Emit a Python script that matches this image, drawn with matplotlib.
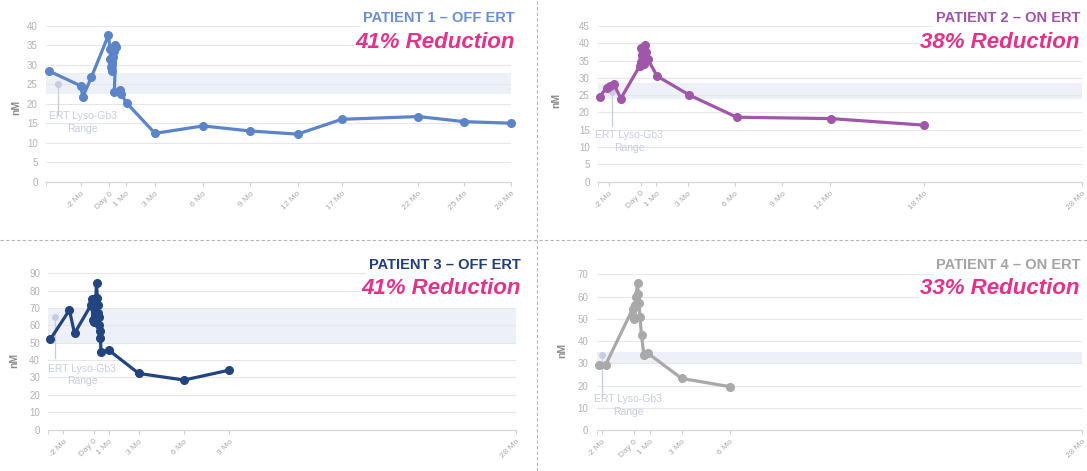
import matplotlib
matplotlib.use("Agg")
import matplotlib.pyplot as plt
from matplotlib.lines import Line2D

plt.rcParams['font.family'] = ['Liberation Sans', 'DejaVu Sans']

W, H = 1087, 471

# ---------------- data ----------------
# Patient 1 (x in months relative to Day 0 as plotted)
p1_x = [-3.9, -1.85, -1.7, -1.15, -0.05, 0.05, 0.08, 0.12, 0.16, 0.2, 0.25, 0.3, 0.38, 0.42, 0.33, 0.7, 0.75, 1.12,
        2.95, 6.05, 9.1, 12.15, 15.0, 19.95, 22.9, 25.9]
p1_y = [28.4, 24.6, 21.8, 26.8, 37.6, 34.0, 31.5, 29.5, 28.5, 30.5, 32.0, 33.5, 35.0, 34.5, 23.0, 23.4, 22.6, 20.2,
        12.4, 14.3, 13.0, 12.2, 16.0, 16.7, 15.4, 15.0]
p1_ticks = [-1.85, 0, 1.1, 2.95, 6.05, 9.1, 12.15, 15.0, 19.95, 22.9, 25.9]
p1_labels = ["-2 Mo", "Day 0", "1 Mo", "3 Mo", "6 Mo", "9 Mo", "12 Mo", "17 Mo", "22 Mo", "25 Mo", "28 Mo"]
p1_band = (22.4, 28.0)

# Patient 2
p2_x = [-2.6, -2.15, -1.95, -1.7, -1.25, -0.05, 0.0, 0.05, 0.12, 0.2, 0.3, 0.36, 0.45, 1.05, 3.1, 6.1, 12.1, 18.0]
p2_y = [24.5, 27.2, 27.5, 28.2, 24.0, 33.5, 38.5, 34.5, 36.5, 34.0, 39.5, 37.5, 35.5, 30.5, 25.0, 18.6, 18.2, 16.3]
p2_ticks = [-2, 0, 1, 3, 6, 9, 12, 18, 28]
p2_labels = ["-2 Mo", "Day 0", "1 Mo", "3 Mo", "6 Mo", "9 Mo", "12 Mo", "18 Mo", "28 Mo"]
p2_band = (24.0, 28.4)

# Patient 3
p3_x = [-2.87, -1.6, -1.26, -0.15, -0.1, -0.05, 0.0, 0.05, 0.1, 0.15, 0.2, 0.25, 0.3, 0.32, 0.35, 0.38, 0.4, 0.45,
        0.5, 1.0, 3.0, 6.0, 9.0]
p3_y = [51.9, 68.8, 55.4, 72.0, 75.0, 63.0, 62.0, 70.0, 74.0, 76.0, 84.2, 76.0, 72.0, 67.0, 65.0, 60.0, 57.0, 53.0,
        44.8, 45.8, 32.3, 28.5, 34.2]
p3_ticks = [-2, 0, 1, 3, 6, 9, 28]
p3_labels = ["-2 Mo", "Day 0", "1 Mo", "3 Mo", "6 Mo", "9 Mo", "28 Mo"]
p3_band = (50.0, 70.0)

# Patient 4
p4_x = [-2.15, -1.75, -0.05, 0.0, 0.05, 0.1, 0.15, 0.25, 0.3, 0.35, 0.4, 0.5, 0.65, 0.9, 3.0, 6.0]
p4_y = [29.2, 29.2, 54.5, 51.0, 50.0, 56.0, 60.0, 66.0, 61.0, 57.0, 51.0, 42.5, 33.5, 34.5, 23.2, 19.5]
p4_ticks = [-2, 0, 1, 3, 6, 28]
p4_labels = ["-2 Mo", "Day 0", "1 Mo", "3 Mo", "6 Mo", "28 Mo"]
p4_band = (30.0, 35.2)

titles = ["PATIENT 1 \u2013 OFF ERT", "PATIENT 2 \u2013 ON ERT", "PATIENT 3 \u2013 OFF ERT", "PATIENT 4 \u2013 ON ERT"]
reductions = ["41% Reduction", "38% Reduction", "41% Reduction", "33% Reduction"]

# ---------------- styling / layout ----------------
colors = ["#5b84c9", "#a157a9", "#22447f", "#a9a9a9"]
title_colors = ["#6a8fd0", "#9e54a7", "#1f3d79", "#a3a3a3"]
pink = "#e2338a"
band_color = "#edf0f6"
range_color = "#c7cce0"

panels = [
    dict(x=p1_x, y=p1_y, ticks=p1_ticks, labels=p1_labels, band=p1_band,
         px=(46, 511, 25.7, 181.7), xlim=(-4.08, 25.92), ymax=40, ystep=5,
         marker=(-3.3, 25.0), line_end=17.0, text=(-1.7, 18.2), title_xy=(515, 18), nm=(16, 107)),
    dict(x=p2_x, y=p2_y, ticks=p2_ticks, labels=p2_labels, band=p2_band,
         px=(598, 1082, 26, 181.5), xlim=(-2.7, 28.0), ymax=45, ystep=5,
         marker=(-1.82, 25.9), line_end=16.0, text=(-0.72, 14.8), title_xy=(1080, 18), nm=(556, 100)),
    dict(x=p3_x, y=p3_y, ticks=p3_ticks, labels=p3_labels, band=p3_band,
         px=(48.3, 515.7, 273.3, 429.5), xlim=(-3.0, 28.0), ymax=90, ystep=10,
         marker=(-2.53, 65.0), line_end=41.0, text=(-0.76, 38.0), title_xy=(521, 265), nm=(14, 360)),
    dict(x=p4_x, y=p4_y, ticks=p4_ticks, labels=p4_labels, band=p4_band,
         px=(596.7, 1082, 274.3, 430), xlim=(-2.3, 28.0), ymax=70, ystep=10,
         marker=(-1.94, 33.7), line_end=14.5, text=(-0.33, 16.0), title_xy=(1080, 265), nm=(562, 350)),
]

fig = plt.figure(figsize=(W / 100, H / 100), dpi=100)

for i, p in enumerate(panels):
    l, r, t, b = p["px"]
    ax = fig.add_axes([l / W, 1 - b / H, (r - l) / W, (b - t) / H])
    ax.set_xlim(*p["xlim"])
    ax.set_ylim(0, p["ymax"])
    yt = list(range(0, p["ymax"] + 1, p["ystep"]))
    ax.set_yticks(yt)
    ax.set_yticklabels([str(v) for v in yt], fontsize=7, color="#b3b3b3")
    ax.tick_params(axis="y", length=0, pad=6)
    ax.grid(axis="y", color="#e6e6e6", linewidth=0.8, zorder=0)
    ax.set_axisbelow(True)
    for s in ["top", "right", "left"]:
        ax.spines[s].set_visible(False)
    ax.spines["bottom"].set_color("#d6d6d6")
    ax.spines["bottom"].set_linewidth(0.9)
    ax.set_xticks(p["ticks"])
    ax.set_xticklabels(p["labels"], fontsize=6, color="#a8a8a8", rotation=45,
                       ha="right", rotation_mode="anchor")
    ax.set_xticks([p["xlim"][0]], minor=True)
    ax.tick_params(axis="x", which="both", length=3, color="#cfcfcf", pad=3)
    ax.patch.set_alpha(0)

    # reference range band
    ax.axhspan(p["band"][0], p["band"][1], color=band_color, zorder=0.5, linewidth=0)
    mx, my = p["marker"]
    ax.plot([mx, mx], [my, p["line_end"]], color=range_color, lw=0.9, zorder=1)
    ax.plot([mx], [my], "o", color=range_color, ms=4, zorder=1)
    ax.text(p["text"][0], p["text"][1], "ERT Lyso-Gb3\nRange", fontsize=7.5, color=range_color,
            ha="center", va="top", multialignment="center", linespacing=1.35, zorder=1)

    # series
    ax.plot(p["x"], p["y"], "-o", color=colors[i], lw=2.3, ms=5.5, zorder=3, clip_on=False)

    # titles
    tx, ty = p["title_xy"]
    fig.text(tx / W, 1 - ty / H, titles[i], fontsize=10.5, fontweight="bold", color=title_colors[i],
             ha="right", va="center",
             bbox=dict(facecolor="white", edgecolor="none", pad=2))
    fig.text(tx / W, 1 - (ty + 24) / H, reductions[i], fontsize=16, fontweight="bold", fontstyle="italic",
             color=pink, ha="right", va="center",
             bbox=dict(facecolor="white", edgecolor="none", pad=1))
    nx, ny = p["nm"]
    fig.text(nx / W, 1 - ny / H, "nM", fontsize=7.5, fontweight="bold", color="#8a8a8a",
             rotation=90, ha="center", va="center")

# dashed dividers
fig.add_artist(Line2D([537 / W, 537 / W], [0, 1], transform=fig.transFigure, color="#b5b5b5",
                      lw=0.8, linestyle=(0, (3, 2))))
fig.add_artist(Line2D([0, 1], [1 - 240 / H, 1 - 240 / H], transform=fig.transFigure, color="#b5b5b5",
                      lw=0.8, linestyle=(0, (3, 2))))

fig.savefig("out.png", dpi=100, facecolor="white")
